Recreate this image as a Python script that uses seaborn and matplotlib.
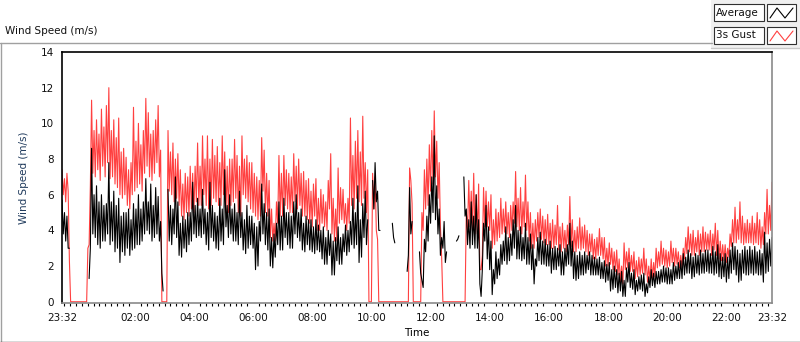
import numpy as np
import pandas as pd
import seaborn as sns
import matplotlib.pyplot as plt
import matplotlib.dates as mdates
from matplotlib.patches import Rectangle
from matplotlib.lines import Line2D

nan = np.nan

#--Data: readings every 2.5 min from 23:32 to 23:32 next day
# *_hi = reading on the 5 min marks (spike tops), *_lo = reading half way between them
start = '2021-03-01 23:32'
step = '150s'

# 3s gust (m/s)
gust_hi = [
    7.4, 6.9, 7.2, 2.3, 0, 0, 0, 0, 0, 0, 0, 3.2,
    11.3, 9.6, 10.2, 9.4, 10.8, 9.8, 11.0, 12.0, 9.6,
    10.2, 9.2, 10.3, 8.4, 8.6, 8.1, 7.4, 7.8, 10.9, 9.0,
    10.0, 8.8, 9.6, 11.4, 10.6, 9.4, 9.6, 10.2, 11.0, 8.5,
    0, 0, 9.6, 8.4, 8.9, 8.0, 8.3, 7.4, 6.6, 7.2,
    7.0, 7.6, 7.2, 7.6, 8.9, 7.6, 9.3,
    8.0, 9.3, 8.0, 9.1, 8.2, 8.7, 7.8, 9.3, 8.4, 7.6,
    8.0, 8.0, 9.1, 8.2, 7.6, 9.3, 8.0, 8.2, 7.8, 7.8,
    7.2, 7.0, 6.8, 9.2, 8.5, 7.2, 6.8, 5.2, 4.4, 5.6,
    8.2, 7.2, 8.2, 7.4, 7.2, 7.0, 8.3, 7.6, 8.0, 7.2,
    7.3, 6.8, 6.9, 6.2, 6.6, 6.9, 5.8, 6.3, 6.0, 5.6,
    6.8, 8.3, 5.8, 5.2, 7.5, 6.4, 6.3, 5.5,
    5.8, 10.3, 8.2, 9.0, 9.6, 8.4, 10.4, 7.8, 7.4, 0,
    7.2, 7.0, 3.5, 0, 0, 0, 0, 0, 0, 0, 0, 0, 0, 0, 0,
    7.5, 5.5, 0, 0, 0,
    5.0, 7.4, 8.0, 8.8, 9.6, 10.7, 9.0, 7.8, 2.5,
    0, 0, 0, 0, 0, 0, 0, 0, 0,
    5.0, 6.8, 6.2, 7.2, 6.0, 6.6, 1.8, 6.4, 6.2,
    5.6, 6.0, 4.6, 5.2, 5.0, 5.8, 5.2, 5.6, 5.0, 5.4,
    5.6, 7.3, 5.8, 6.4, 5.6, 7.1, 5.6, 5.0, 4.4, 4.6,
    5.0, 5.2, 4.8, 4.6, 4.9, 4.4, 4.6, 4.3, 5.4, 4.2,
    4.4, 4.0, 4.3, 5.9, 4.6, 4.0, 4.2, 4.7, 4.2, 4.3,
    4.0, 3.8, 3.8, 3.5, 3.6, 4.1, 3.6, 3.6, 3.0, 3.3,
    3.0, 2.8, 2.9, 2.4, 2.0, 3.3, 2.8, 3.0,
    2.6, 2.8, 2.3, 2.5, 2.4, 3.0, 2.4, 2.0, 2.4, 2.2,
    3.0, 2.8, 3.4, 3.0, 2.9, 2.8, 3.4, 3.0, 3.0, 2.8,
    2.6, 3.0, 3.6, 4.2, 3.8, 4.0, 3.6, 4.0, 3.8, 4.2,
    3.9, 3.8, 4.0, 3.8, 4.4, 4.0, 3.4, 3.2, 3.2, 3.0,
    3.8, 4.6, 5.3, 4.6, 5.6, 4.8, 4.4, 4.6, 4.4, 4.8,
    4.4, 5.0, 4.6, 4.2, 5.0, 6.3, 5.4, 6.7,
]
gust_lo = [
    6.0, 5.6, 6.2, 0, 0, 0, 0, 0, 0, 0, 3.0, 6.5,
    7.2, 7.0, 7.4, 6.8, 7.6, 7.0, 7.8, 6.9, 7.0,
    6.6, 6.4, 6.0, 5.8, 6.0, 5.4, 5.2, 6.0, 6.2, 6.4,
    6.6, 6.2, 7.2, 7.6, 7.0, 6.8, 7.2, 7.8, 7.0, 0,
    0, 0, 6.2, 6.0, 5.6, 5.8, 5.4, 4.8, 4.6, 5.0,
    4.8, 5.2, 5.0, 5.6, 5.4, 5.4, 6.0,
    5.4, 5.2, 5.4, 5.8, 5.6, 5.4, 5.4, 6.0, 5.0, 5.0,
    5.4, 5.6, 5.8, 5.0, 4.8, 6.0, 5.8, 5.6, 5.2, 5.0,
    4.8, 4.6, 4.8, 6.2, 5.0, 4.8, 3.6, 3.4, 3.4, 4.4,
    4.8, 4.8, 5.4, 5.2, 5.0, 5.0, 5.6, 5.2, 5.4, 4.8,
    4.8, 4.6, 4.4, 4.2, 4.8, 4.0, 4.0, 4.4, 4.2, 4.0,
    5.2, 3.8, 3.4, 3.4, 4.4, 4.6, 4.4,
    4.0, 4.4, 5.4, 5.2, 5.8, 5.6, 5.4, 5.8, 5.0, 0,
    0, 5.2, 4.0, 0, 0, 0, 0, 0, 0, 0, 0, 0, 0, 0, 0, 0,
    6.8, 0, 0, 0, 0,
    4.0, 5.2, 5.4, 6.2, 6.6, 7.0, 5.8, 4.2, 0,
    0, 0, 0, 0, 0, 0, 0, 0, 0,
    4.0, 4.2, 4.0, 3.8, 3.8, 1.8, 2.6, 4.2,
    4.2, 4.0, 3.0, 3.2, 3.4, 3.6, 3.8, 3.9, 3.8, 3.6,
    4.0, 4.4, 4.2, 4.0, 3.8, 4.2, 4.0, 3.4, 3.0, 3.0,
    3.4, 3.6, 3.5, 3.3, 3.2, 3.2, 3.0, 3.0, 3.2, 2.9,
    2.8, 3.0, 2.8, 3.2, 3.1, 2.8, 2.8, 3.0, 2.9, 3.0,
    2.8, 2.6, 2.8, 2.4, 2.4, 2.6, 2.6, 2.4, 2.0, 2.0,
    2.1, 1.8, 1.7, 1.5, 1.1, 1.0, 1.8, 1.9,
    1.7, 1.7, 1.3, 1.4, 1.5, 1.6, 1.5, 1.1, 1.2, 1.3,
    1.4, 1.9, 2.0, 2.1, 2.0, 1.9, 2.0, 2.2, 2.0, 2.1,
    1.9, 1.9, 2.4, 2.7, 2.8, 2.6, 2.6, 2.8, 2.6, 2.8,
    2.8, 2.9, 2.9, 2.6, 2.9, 2.6, 2.4, 2.3, 2.3, 2.2,
    2.5, 3.1, 3.3, 3.3, 3.5, 3.3, 3.2, 3.3, 3.3, 3.3,
    3.2, 3.3, 3.2, 3.0, 3.2, 3.8, 3.8, 4.0,
]

# average (m/s), nan = no data
avg_hi = [
    5.7, 5.0, 4.8, 3.0, nan, nan, nan, nan, nan, nan, nan, 1.3,
    8.6, 6.0, 6.5, 5.6, 6.0, 5.4, 5.5, 7.8, 5.6,
    6.2, 5.4, 5.8, 4.8, 5.0, 5.0, 5.2, 4.6, 5.5, 5.2,
    6.0, 5.2, 5.6, 6.9, 5.6, 6.6, 5.4, 6.4, 5.9, 4.5,
    0.6, nan, 6.3, 5.4, 5.2, 7.0, 5.6, 4.4, 4.8, 4.6,
    5.0, 5.0, 6.7, 5.4, 5.8, 5.2, 6.3,
    5.2, 5.0, 6.7, 5.4, 5.0, 4.8, 5.8, 5.2, 7.4, 5.4,
    6.0, 5.2, 5.5, 5.0, 6.2, 5.0, 4.6, 5.4, 4.8, 4.8,
    4.4, 4.2, 4.5, 6.6, 5.5, 5.0, 5.2, 3.6, 3.8, 4.4,
    5.6, 4.8, 5.8, 5.0, 5.0, 4.8, 5.6, 6.0, 5.0, 5.2,
    4.4, 4.8, 4.6, 4.6, 4.2, 4.6, 4.3, 4.0, 4.2, 3.6,
    4.0, 3.8, 3.4, 3.6, 4.2, 3.6, 3.8, 4.3,
    4.0, 4.5, 5.8, 5.0, 6.5, 4.6, 5.5, 6.2, 4.6, nan,
    6.8, 7.8, 6.2, 4.0, nan, nan, nan, nan, 4.4, 3.3,
    nan, nan, nan, nan, 1.7, 6.4, 4.5, nan, nan,
    2.8, 1.2, 3.5, 4.8, 6.0, 7.0, 9.3, 6.5, 5.2, 3.6, 4.5, 2.8,
    nan, nan, nan, 3.4, 3.7, nan,
    7.0, 5.2, 4.6, 5.6, 4.8, 6.0, 4.6, 0.3, 4.4, 5.4,
    4.2, 3.4, 1.8, 2.8, 2.4, 3.2, 3.4, 4.2, 3.6, 3.8,
    4.6, 5.4, 4.0, 4.2, 3.6, 4.4, 3.6, 3.8, 3.2, 2.4,
    3.6, 3.9, 3.4, 3.5, 3.2, 3.4, 3.0, 3.1, 3.0, 3.2,
    2.8, 3.0, 3.2, 4.4, 3.4, 2.8, 2.6, 2.8, 2.6, 2.8,
    2.6, 2.8, 2.6, 2.5, 2.4, 2.5, 2.2, 2.3, 2.1, 2.2,
    1.8, 2.0, 1.8, 1.6, 1.7, 1.2, 1.9, 2.2,
    1.6, 1.8, 1.2, 1.4, 1.5, 1.6, 1.0, 1.4, 1.8, 1.6,
    1.7, 1.7, 1.8, 2.0, 1.9, 1.9, 1.8, 2.2, 2.0, 2.2,
    2.3, 2.7, 2.5, 2.9, 2.7, 2.5, 2.7, 2.6, 2.9, 2.7,
    2.9, 2.9, 2.7, 3.1, 2.8, 3.2, 2.7, 2.5, 2.7, 2.5,
    2.9, 3.3, 3.1, 2.9, 2.7, 2.9, 3.1, 2.9, 3.1, 2.9,
    3.1, 2.8, 2.9, 2.7, 3.9, 3.3, 3.5, 3.6,
]
avg_lo = [
    3.8, 3.4, 3.0, nan, nan, nan, nan, nan, nan, nan, nan, 3.0,
    3.8, 3.6, 3.2, 3.0, 3.4, 3.4, 3.8, 3.2, 3.4,
    2.8, 3.0, 2.2, 2.8, 2.6, 3.0, 2.6, 2.9, 3.0, 3.2,
    3.2, 3.4, 3.8, 4.0, 3.8, 3.4, 3.6, 3.8, 3.4, 1.6,
    nan, nan, 3.4, 3.2, 3.8, 3.6, 2.6, 2.5, 3.0, 2.8,
    3.2, 3.4, 3.8, 3.6, 3.7, 3.6, 3.8,
    3.2, 2.9, 3.6, 3.4, 3.0, 2.9, 3.4, 3.2, 4.2, 3.6,
    3.8, 3.4, 3.4, 3.2, 3.6, 2.9, 2.7, 3.0, 3.2, 3.0,
    1.8, 2.0, 3.4, 3.8, 3.2, 2.9, 2.0, 1.9, 2.5, 3.2,
    2.9, 2.9, 3.6, 3.2, 3.0, 3.0, 3.8, 3.6, 3.4, 2.9,
    2.8, 3.2, 2.9, 2.8, 2.7, 2.9, 2.8, 2.4, 2.1, 2.1,
    2.6, 1.5, 1.5, 2.3, 2.1, 2.1, 2.8,
    2.6, 2.8, 3.2, 3.0, 3.2, 2.2, 2.5, 3.6, 3.2, nan,
    nan, 5.2, 5.6, 4.0, nan, nan, nan, nan, nan, 3.6, nan,
    nan, nan, nan, nan, 2.6, 3.8, nan, nan, nan,
    1.6, 0.8, 2.8, 3.4, 4.4, 5.0, 4.6, 3.8, 2.6, 3.0, 2.2,
    nan, nan, nan, nan, 3.5, nan, nan,
    4.8, 3.2, 3.0, 3.2, 3.0, 3.0, 1.0, 1.8, 3.4,
    2.4, 1.8, 0.4, 1.0, 1.3, 1.5, 2.1, 2.3, 2.1, 2.3,
    2.6, 3.0, 2.4, 2.4, 2.3, 2.4, 2.1, 2.1, 1.8, 1.0,
    2.0, 2.3, 2.1, 2.1, 2.0, 2.0, 1.6, 1.8, 1.8, 2.0,
    1.5, 1.5, 2.0, 2.1, 2.0, 1.3, 1.2, 1.3, 1.5, 1.5,
    1.6, 1.8, 1.5, 1.5, 1.5, 1.5, 1.3, 1.3, 1.1, 1.2,
    0.6, 0.7, 0.8, 0.5, 0.6, 0.3, 0.3, 1.1,
    0.8, 0.7, 0.4, 0.6, 0.7, 0.6, 0.3, 0.5, 0.8, 0.9,
    0.8, 1.0, 1.0, 1.1, 1.1, 1.0, 1.0, 1.0, 1.2, 1.3,
    1.3, 1.3, 1.5, 1.6, 1.6, 1.3, 1.4, 1.6, 1.5, 1.6,
    1.6, 1.7, 1.6, 1.6, 1.5, 1.6, 1.4, 1.3, 1.4, 1.1,
    1.3, 1.6, 1.8, 1.5, 1.1, 1.2, 1.6, 1.5, 1.5, 1.6,
    1.5, 1.6, 1.5, 1.5, 1.1, 1.6, 1.7, 2.0,
]

yticks = [0, 2, 4, 6, 8, 10, 12, 14]
legend_names = ['Average', '3s Gust']
legend_colors = ['black', '#ff4040']

assert len(gust_hi) == len(avg_hi) == 289
assert len(gust_lo) == len(avg_lo) == 288

#%%
#--Organize (interleave the two readings of each 5 min slot)
def interleave(hi, lo):
    out = np.empty(len(hi) + len(lo))
    out[0::2] = hi
    out[1::2] = lo
    return out

gust = interleave(gust_hi, gust_lo)
avg = interleave(avg_hi, avg_lo)

df = pd.DataFrame({
    'time': pd.date_range(start, periods=len(gust), freq=step),
    'gust': gust,
    'avg': avg,
})
df['seg'] = df['avg'].isna().cumsum()
df_avg = df.dropna(subset=['avg'])

#%%
#--Plot
sns.set_style('white')
plt.rcParams['font.family'] = ['DejaVu Sans']
fs = 7.5

W, H = 800, 342
fig = plt.figure(figsize=(W / 100, H / 100), dpi=100)
ax = fig.add_axes([62 / W, 39 / H, 710 / W, 251 / H])

sns.lineplot(data=df, x='time', y='gust', estimator=None, errorbar=None,
             color=legend_colors[1], lw=0.8, ax=ax)
sns.lineplot(data=df_avg, x='time', y='avg', units='seg', estimator=None,
             color=legend_colors[0], lw=0.8, ax=ax)

t0, t1 = df['time'].iloc[0], df['time'].iloc[-1]
ax.set_xlim(t0, t1)
ax.set_ylim(-0.07, 14)
ax.set_yticks(yticks)

majors = [t0] + list(pd.date_range(t0.normalize() + pd.Timedelta(hours=26), t1 - pd.Timedelta(hours=1), freq='2h')) + [t1]
ax.set_xticks(majors)
ax.xaxis.set_major_formatter(mdates.DateFormatter('%H:%M'))
ax.xaxis.set_minor_locator(mdates.MinuteLocator(byminute=[0, 12, 24, 36, 48]))

ax.tick_params(axis='both', which='major', direction='out', length=4, width=0.8,
               color='black', labelsize=fs, labelcolor='#111111', pad=2)
ax.tick_params(axis='x', which='minor', direction='out', length=2.5, width=0.8,
               color='black', bottom=True)
ax.tick_params(axis='x', which='major', pad=3)

for side in ['top', 'left']:
    ax.spines[side].set_color('black')
    ax.spines[side].set_linewidth(1.2)
for side in ['right', 'bottom']:
    ax.spines[side].set_color('#8a8a8a')
    ax.spines[side].set_linewidth(1.2)

ax.set_xlabel('Time', fontsize=fs, color='black')
ax.set_ylabel('Wind Speed (m/s)', fontsize=fs, color='#1f3a5c')
ax.xaxis.set_label_coords(0.5, -0.1)
ax.yaxis.set_label_coords(-0.046, 0.5)

#--Outer frame and caption (LabVIEW style)
def fx(x):
    return x / W

def fy(y):
    return 1 - y / H

gray = '#a0a0a0'
fig.add_artist(Line2D([fx(0), fx(712)], [fy(43), fy(43)], color=gray, lw=1))
fig.add_artist(Line2D([fx(0.5), fx(0.5)], [fy(43), fy(342)], color=gray, lw=1))
fig.add_artist(Line2D([fx(0), fx(800)], [fy(341.5), fy(341.5)], color='#404040', lw=1))
fig.text(fx(5), fy(31), 'Wind Speed (m/s)', fontsize=fs, va='center', ha='left', color='#111111')

#--Legend panel
fig.add_artist(Rectangle((fx(711), fy(48)), fx(89), 48 / H, facecolor='#f0f0f0',
                         edgecolor='none', transform=fig.transFigure))
fig.add_artist(Line2D([fx(711), fx(800)], [fy(48), fy(48)], color='#c8c8c8', lw=1))
for k, (name, col) in enumerate(zip(legend_names, legend_colors)):
    top = 4 + k * 23
    fig.add_artist(Rectangle((fx(714), fy(top + 17)), fx(50), 17 / H, facecolor='white',
                             edgecolor='#303030', lw=0.8, transform=fig.transFigure))
    fig.text(fx(716), fy(top + 8.5), name, fontsize=fs, va='center', ha='left', color='#111111')
    fig.add_artist(Rectangle((fx(767), fy(top + 17)), fx(29), 17 / H, facecolor='white',
                             edgecolor='#303030', lw=0.8, transform=fig.transFigure))
    zx = [770, 777, 785, 793]
    zy = [top + 14, top + 4, top + 14, top + 4]
    fig.add_artist(Line2D([fx(v) for v in zx], [fy(v) for v in zy], color=col, lw=0.8))

plt.savefig('out.png', dpi=100)
plt.close()
